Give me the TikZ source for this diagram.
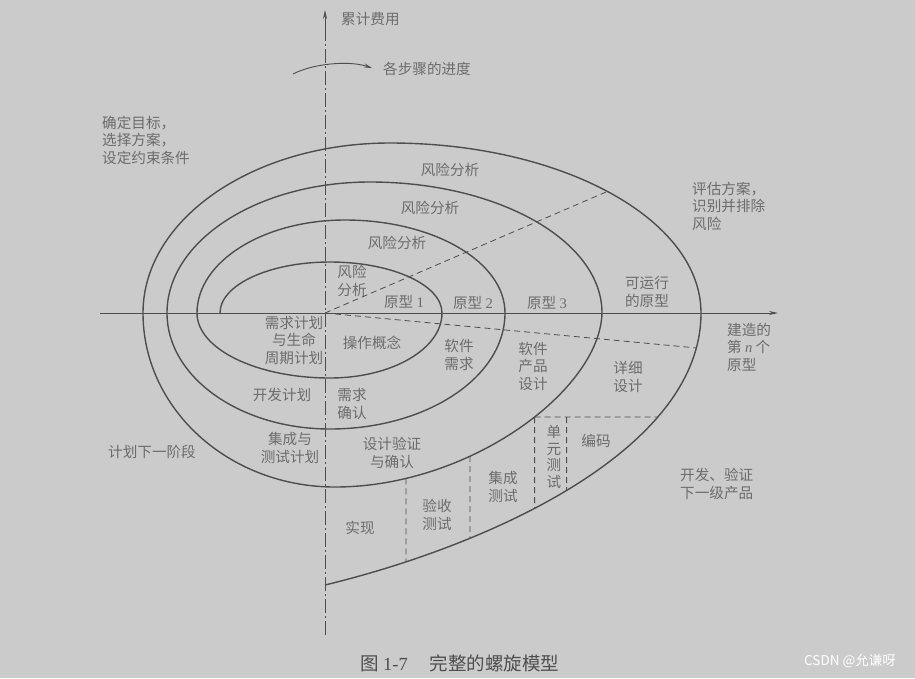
\documentclass[tikz,border=0pt]{standalone}
\usepackage{fontspec}
\newfontfamily\cjk{Noto Sans CJK SC}
\newfontfamily\serif{Liberation Serif}
\usetikzlibrary{arrows.meta,intersections}
\definecolor{bg}{RGB}{203,203,203}
\definecolor{ln}{RGB}{78,78,78}
\definecolor{tx}{RGB}{108,108,108}
\begin{document}
\begin{tikzpicture}[x=1pt,y=-1pt,
  lbl/.style={text=tx,font=\cjk\fontsize{14.6}{17.5}\selectfont,align=center,inner sep=0pt},
  spiral/.style={draw=ln,line width=1.4pt},
  axis/.style={draw=ln,line width=0.9pt},
  guide/.style={draw=ln,line width=0.8pt,dash pattern=on 6pt off 4pt},
  centerline/.style={draw=ln,line width=0.8pt,dash pattern=on 14pt off 3pt on 2pt off 3pt}]
\fill[bg] (0,0) rectangle (915,678);
\useasboundingbox (0,0) rectangle (915,678);

% axes
\coordinate (O) at (325,313);
\coordinate (xl) at (100,313);
\coordinate (xr) at (778,313);
\coordinate (yb) at (325,635);
\coordinate (yt) at (325,10);
\draw[axis,-{Stealth[length=9pt,width=4pt]}] (xl) -- (xr);
\draw[centerline] (yb) -- (325,30);
\draw[axis,-{Stealth[length=9pt,width=4pt]}] (325,34) -- (yt);

% progress arrow
\coordinate (pa) at (293,74);
\coordinate (pb) at (372,68);
\draw[axis,-{Stealth[length=8pt,width=4pt]}] (pa) .. controls (312,64) and (348,60) .. (pb);

% spiral
\draw[spiral] (220,313)
  .. controls (220,284.8) and (269.2,262) .. (330,262)
  .. controls (391.9,262) and (442,284.8) .. (442,313)
  .. controls (442,348.9) and (391.9,378) .. (330,378)
  .. controls (256.5,378) and (197,348.9) .. (197,313)
  .. controls (197,261.6) and (263.3,220) .. (345,220)
  .. controls (433.4,220) and (505,261.6) .. (505,313)
  .. controls (505,377.1) and (426.7,429) .. (330,429)
  .. controls (240,429) and (167,377.1) .. (167,313)
  .. controls (167,240.6) and (257.9,182) .. (370,182)
  .. controls (498.1,182) and (602,240.6) .. (602,313)
  .. controls (600,390) and (470,487) .. (335,487)
  .. controls (229,487) and (143,409.1) .. (143,313)
  .. controls (143,219) and (253.6,143) .. (390,143)
  .. controls (561.8,143) and (701,219.1) .. (701,313)
  .. controls (701,450) and (490,545) .. (325,585);

\path[name path=c11] (602,313) .. controls (600,390) and (470,487) .. (335,487);
\path[name path=c15] (701,313) .. controls (701,450) and (490,545) .. (325,585);
\path[name path=c14] (390,143) .. controls (561.8,143) and (701,219.1) .. (701,313);

% diagonal dashed lines
\path[name path=d1] (O) -- (620,186);
\path[name intersections={of=c14 and d1,by=D1}];
\draw[guide] (O) -- (D1);
\coordinate (D2) at (697,348);
\draw[guide] (O) -- (D2);

% dashed grid in the lower right
\path[name path=hl] (450,417) -- (720,417);
\path[name intersections={of=c11 and hl,by=H1}];
\path[name intersections={of=c15 and hl,by=H2}];
\draw[guide] (H1) -- (H2);
\path[name path=v1] (406,400) -- (406,620);
\path[name intersections={of=c11 and v1,by=A1}];
\path[name intersections={of=c15 and v1,by=A2}];
\draw[guide] (A1) -- (A2);
\path[name path=v2] (470,400) -- (470,620);
\path[name intersections={of=c11 and v2,by=B1}];
\path[name intersections={of=c15 and v2,by=B2}];
\draw[guide] (B1) -- (B2);
\path[name path=v3] (H1) -- ++(0,200);
\path[name intersections={of=c15 and v3,by=C2}];
\draw[guide] (H1) -- (C2);
\coordinate (H3) at ([xshift=32pt]H1);
\path[name path=v4] (H3) -- ++(0,200);
\path[name intersections={of=c15 and v4,by=E2}];
\draw[guide] (H3) -- (E2);

% labels
\node[lbl,anchor=west] (t1) at (341,19) {累计费用};
\node[lbl,anchor=west] (t2) at (383,69) {各步骤的进度};
\node[lbl,anchor=west,align=left] (t3) at (102,140) {确定目标，\\选择方案，\\设定约束条件};
\node[lbl,anchor=west,align=left] (t4) at (692,206) {评估方案，\\识别并排除\\风险};
\node[lbl] (t5) at (152,452) {计划下一阶段};
\node[lbl,anchor=west,align=left] (t6) at (680,484) {开发、验证\\下一级产品};
\node[lbl,anchor=west,align=left] (t7) at (727,347) {建造的\\第 {\serif\itshape n} 个\\原型};
\node[lbl] (r1) at (450,170) {风险分析};
\node[lbl] (r2) at (430,208) {风险分析};
\node[lbl] (r3) at (397,243) {风险分析};
\node[lbl] (r4) at (352,281) {风险\\分析};
\node[lbl] (p1) at (404,302) {原型 {\serif 1}};
\node[lbl] (p2) at (473,303) {原型 {\serif 2}};
\node[lbl] (p3) at (547,303) {原型 {\serif 3}};
\node[lbl] (p4) at (647,292) {可运行\\的原型};
\node[lbl] (q1) at (294,340) {需求计划\\与生命\\周期计划};
\node[lbl] (q2) at (372,343) {操作概念};
\node[lbl] (q3) at (459,355) {软件\\需求};
\node[lbl] (q4) at (533,366) {软件\\产品\\设计};
\node[lbl] (q5) at (628,377) {详细\\设计};
\node[lbl] (q6) at (282,395) {开发计划};
\node[lbl] (q7) at (352,404) {需求\\确认};
\node[lbl] (q8) at (290,448) {集成与\\测试计划};
\node[lbl] (q9) at (392,453) {设计验证\\与确认};
\node[lbl] (s1) at (360,528) {实现};
\node[lbl] (s2) at (437,515) {验收\\测试};
\node[lbl] (s3) at (503,487) {集成\\测试};
\node[lbl,font=\cjk\fontsize{14.6}{16.7}\selectfont] (s4) at (554,457) {单\\元\\测\\试};
\node[lbl] (s5) at (596,441) {编码};
\node[lbl,text=ln,font=\cjk\fontsize{18.5}{22}\selectfont] (cap) at (460,663) {图 {\serif 1-7}\hspace{22pt}完整的螺旋模型};
\node[lbl,text=white,font=\cjk\fontsize{13.5}{16}\selectfont] (wm) at (850,661) {CSDN @允谦呀};
\end{tikzpicture}
\end{document}
